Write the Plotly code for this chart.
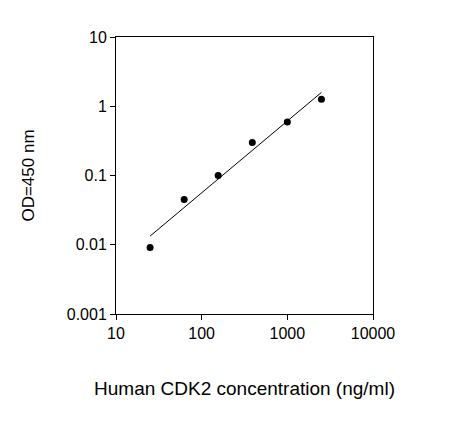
import numpy as np
import plotly.graph_objects as go

# standard curve points
conc = [25, 62.5, 156, 390, 1000, 2500]
od = [0.0091, 0.045, 0.1, 0.30, 0.59, 1.26]

# linear fit in log-log space
k, b = np.polyfit(np.log10(conc), np.log10(od), 1)
fit_x = [conc[0], conc[-1]]
fit_y = [10 ** (k * np.log10(v) + b) for v in fit_x]

fig = go.Figure()
fig.add_trace(go.Scatter(x=fit_x, y=fit_y, mode="lines", line=dict(color="black", width=1)))
fig.add_trace(go.Scatter(x=conc, y=od, mode="markers", marker=dict(color="black", size=7)))

axis = dict(type="log", showgrid=False, zeroline=False, showline=True, mirror=True,
            linecolor="black", linewidth=1, ticks="outside", ticklen=5, tickcolor="black",
            tickfont=dict(size=16, color="black"), automargin=False)
fig.update_xaxes(axis, range=[1, 4], tickvals=[10, 100, 1000, 10000],
                 ticktext=["10", "100", "1000", "10000"],
                 title=dict(text="Human CDK2 concentration (ng/ml)", font=dict(size=19, color="black"), standoff=40))
fig.update_yaxes(axis, range=[-3, 1], tickvals=[0.001, 0.01, 0.1, 1, 10],
                 ticktext=["0.001", "0.01", "0.1", "1", "10"],
                 title=dict(text="OD=450 nm", font=dict(size=17, color="black"), standoff=27))
fig.update_layout(width=467, height=430, showlegend=False, plot_bgcolor="white", paper_bgcolor="white",
                  font=dict(family="Arial, Liberation Sans"),
                  margin=dict(l=108, r=102, t=29, b=124))
fig.write_html("out.html")
